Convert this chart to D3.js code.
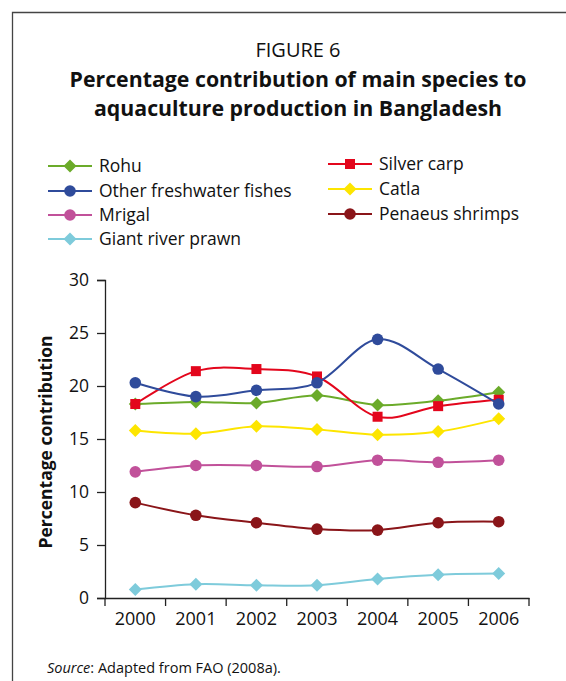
<!DOCTYPE html>
<html>
<head>
<meta charset="utf-8">
<script src="https://cdn.jsdelivr.net/npm/d3@7"></script>
<style>
  html, body { margin: 0; padding: 0; background: #fff; }
  svg { display: block; }
  text { font-family: "Open Sans", "Noto Sans", sans-serif; fill: #111; }
</style>
</head>
<body>
<svg id="chart" width="566" height="681"></svg>
<script>
// Years on the x axis
const years = ["2000", "2001", "2002", "2003", "2004", "2005", "2006"];

// Percentage contribution per species
const rohu          = [18.3, 18.5, 18.4, 19.1, 18.2, 18.6, 19.4];
const silverCarp    = [18.3, 21.4, 21.6, 20.9, 17.1, 18.1, 18.7];
const otherFish     = [20.3, 19.0, 19.6, 20.3, 24.4, 21.6, 18.3];
const catla         = [15.8, 15.5, 16.2, 15.9, 15.4, 15.7, 16.9];
const mrigal        = [11.9, 12.5, 12.5, 12.4, 13.0, 12.8, 13.0];
const penaeus       = [9.0, 7.8, 7.1, 6.5, 6.4, 7.1, 7.2];
const giantPrawn    = [0.8, 1.3, 1.2, 1.2, 1.8, 2.2, 2.3];

const yTicks = [0, 5, 10, 15, 20, 25, 30];

const series = [
  { name: "Rohu",                    values: rohu,       color: "#6bab2a", shape: "diamond", col: 0, row: 0 },
  { name: "Other freshwater fishes", values: otherFish,  color: "#2f4b9b", shape: "circle",  col: 0, row: 1 },
  { name: "Mrigal",                  values: mrigal,     color: "#c1519a", shape: "circle",  col: 0, row: 2 },
  { name: "Giant river prawn",       values: giantPrawn, color: "#7ecbdb", shape: "diamond", col: 0, row: 3 },
  { name: "Silver carp",             values: silverCarp, color: "#e3061c", shape: "square",  col: 1, row: 0 },
  { name: "Catla",                   values: catla,      color: "#fde500", shape: "diamond", col: 1, row: 1 },
  { name: "Penaeus shrimps",         values: penaeus,    color: "#8a1519", shape: "circle",  col: 1, row: 2 }
];

// Draw order so the top series overlay like the printed figure
const drawOrder = ["Giant river prawn", "Penaeus shrimps", "Mrigal", "Catla", "Rohu", "Silver carp", "Other freshwater fishes"];

const svg = d3.select("#chart");

// Figure frame (top and left edges)
svg.append("path")
  .attr("d", "M12.5,681 L12.5,12.5 L566,12.5")
  .attr("fill", "none")
  .attr("stroke", "#444")
  .attr("stroke-width", 1.3);

// Headings
svg.append("text").attr("x", 298).attr("y", 57).attr("text-anchor", "middle")
  .style("font-size", "20px").text("FIGURE 6");
svg.append("text").attr("x", 298).attr("y", 87).attr("text-anchor", "middle")
  .style("font-size", "21.3px").style("font-weight", "bold")
  .text("Percentage contribution of main species to");
svg.append("text").attr("x", 298).attr("y", 116).attr("text-anchor", "middle")
  .style("font-size", "21.3px").style("font-weight", "bold")
  .text("aquaculture production in Bangladesh");

// Plot geometry
const x0 = 105, x1 = 529, yTop = 280, yBottom = 598;
const xBand = d3.scaleBand().domain(years).range([x0, x1]).paddingInner(0).paddingOuter(0);
const xPos = d => xBand(d) + xBand.bandwidth() / 2;
const y = d3.scaleLinear().domain([0, 30]).range([yBottom, yTop]);

// Marker symbols
function marker(sel, shape, color) {
  if (shape === "circle") {
    sel.append("circle").attr("r", 5.8).attr("fill", color);
  } else if (shape === "square") {
    sel.append("rect").attr("x", -5).attr("y", -5).attr("width", 10).attr("height", 10).attr("fill", color);
  } else {
    sel.append("path").attr("d", "M0,-6.5 L6.5,0 L0,6.5 L-6.5,0 Z").attr("fill", color);
  }
}

// Axes
const yAxis = d3.axisLeft(y).tickValues(yTicks).tickSize(8).tickPadding(8);
const gy = svg.append("g").attr("transform", `translate(${x0},0)`).call(yAxis);
gy.select(".domain").attr("stroke", "#222").attr("stroke-width", 1.3);
gy.selectAll(".tick line").attr("stroke", "#222").attr("stroke-width", 1.3);
gy.selectAll(".tick text").style("font-size", "17.5px").style("font-family", "'Open Sans', sans-serif").attr("fill", "#111");

const xAxis = d3.axisBottom(xBand).tickSize(0).tickPadding(14);
const gx = svg.append("g").attr("transform", `translate(0,${yBottom})`).call(xAxis);
gx.select(".domain").attr("stroke", "#222").attr("stroke-width", 1.3);
gx.selectAll(".tick text").style("font-size", "18px").style("font-family", "'Open Sans', sans-serif").attr("fill", "#111");
// Category boundary ticks
const bounds = years.map(d => xBand(d)).concat([x1]);
svg.append("g").selectAll("line").data(bounds).join("line")
  .attr("x1", d => d).attr("x2", d => d)
  .attr("y1", yBottom).attr("y2", yBottom + 8)
  .attr("stroke", "#222").attr("stroke-width", 1.3);

// Axis title
svg.append("text")
  .attr("transform", "translate(52,442) rotate(-90)")
  .attr("text-anchor", "middle")
  .style("font-size", "17.5px").style("font-weight", "bold")
  .text("Percentage contribution");

// Series lines and markers
const line = d3.line()
  .x((d, i) => xPos(years[i]))
  .y(d => y(d))
  .curve(d3.curveCardinal.tension(0));

const byName = new Map(series.map(s => [s.name, s]));
drawOrder.forEach(name => {
  const s = byName.get(name);
  const g = svg.append("g");
  g.append("path").datum(s.values)
    .attr("d", line)
    .attr("fill", "none")
    .attr("stroke", s.color)
    .attr("stroke-width", 2);
  s.values.forEach((v, i) => {
    const m = g.append("g").attr("transform", `translate(${xPos(years[i])},${y(v)})`);
    marker(m, s.shape, s.color);
  });
});

// Legend
const legendCols = [{ x: 48, rows: [166, 191, 215, 239] }, { x: 328, rows: [164, 189, 214] }];
series.forEach(s => {
  const c = legendCols[s.col];
  const ly = c.rows[s.row];
  const g = svg.append("g").attr("transform", `translate(${c.x},${ly})`);
  g.append("line").attr("x1", 0).attr("x2", 44).attr("y1", 0).attr("y2", 0)
    .attr("stroke", s.color).attr("stroke-width", 1.8);
  const m = g.append("g").attr("transform", "translate(22,0)");
  marker(m, s.shape, s.color);
  g.append("text").attr("x", 51).attr("y", 6).style("font-size", "17.5px").text(s.name);
});

// Source note
const src = svg.append("text").attr("x", 47).attr("y", 673).style("font-size", "14.5px");
src.append("tspan").style("font-style", "italic").text("Source");
src.append("tspan").text(": Adapted from FAO (2008a).");
</script>
</body>
</html>
